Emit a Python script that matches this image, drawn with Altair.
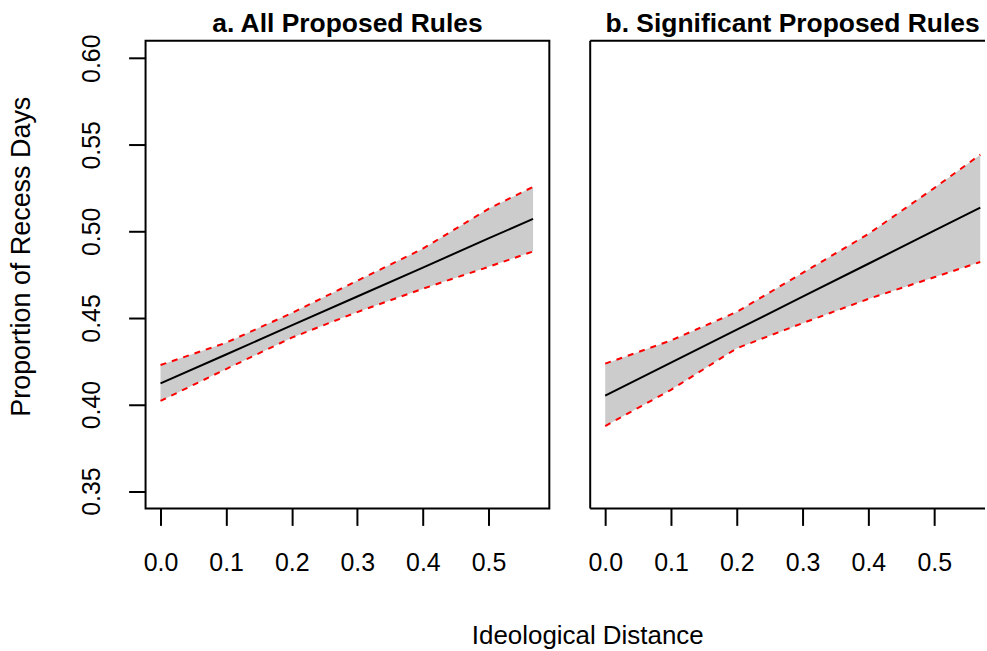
import altair as alt
import pandas as pd

# Panel a: All Proposed Rules
x_a = [0.0, 0.1, 0.2, 0.3, 0.4, 0.5, 0.568]
fit_a = [0.4122, 0.4289, 0.4457, 0.4624, 0.4791, 0.4959, 0.5072]
upper_a = [0.4228, 0.4357, 0.4528, 0.4715, 0.4900, 0.5130, 0.5257]
lower_a = [0.4021, 0.4205, 0.4386, 0.4534, 0.4669, 0.4795, 0.4884]

# Panel b: Significant Proposed Rules
x_b = [0.0, 0.1, 0.2, 0.3, 0.4, 0.5, 0.570]
fit_b = [0.4051, 0.4242, 0.4432, 0.4623, 0.4813, 0.5004, 0.5137]
upper_b = [0.4236, 0.4370, 0.4535, 0.4760, 0.4985, 0.5250, 0.5443]
lower_b = [0.3876, 0.4085, 0.4325, 0.4470, 0.4610, 0.4735, 0.4823]

x_ticks = [0.0, 0.1, 0.2, 0.3, 0.4, 0.5]
y_ticks = [0.35, 0.40, 0.45, 0.50, 0.55, 0.60]

titles = ["a. All Proposed Rules", "b. Significant Proposed Rules"]
x_title = "Ideological Distance"
y_title = "Proportion of Recess Days"

FONT = "Liberation Sans"
H = 469
Y_DOMAIN = [0.34, 0.61]


def panel(xs, fit, up, lo, title, left, width, xdomain, title_x):
    df = pd.DataFrame({"x": xs, "fit": fit, "upper": up, "lower": lo})
    xaxis = alt.Axis(
        values=x_ticks, format=".1f", tickSize=17, tickWidth=2, tickColor="black",
        labelFontSize=25, labelFont=FONT, labelColor="black", labelPadding=25,
        domain=False, grid=False,
        title=x_title if left else None,
        titleFont=FONT, titleFontSize=26, titleFontWeight="normal", titleColor="black",
        titleX=443, titleY=135, titleAlign="center", titleBaseline="alphabetic",
        titleAngle=0,
    )
    xenc = alt.X("x:Q", scale=alt.Scale(domain=xdomain, nice=False, zero=False), axis=xaxis)
    if left:
        yaxis = alt.Axis(
            values=y_ticks, format=".2f", tickSize=17, tickWidth=2, tickColor="black",
            labelFontSize=25, labelFont=FONT, labelColor="black", labelPadding=29,
            labelAngle=270, labelAlign="center", labelBaseline="alphabetic",
            domain=False, grid=False, title=y_title,
            titleFont=FONT, titleFontSize=27, titleFontWeight="normal", titleColor="black",
            titleX=-124, titleY=216, titleAngle=270, titleAlign="center",
            titleBaseline="middle",
        )
    else:
        yaxis = None
    yscale = alt.Scale(domain=Y_DOMAIN, nice=False, zero=False)

    base = alt.Chart(df)
    band = base.mark_area(color="#cccccc", opacity=1).encode(
        x=xenc,
        y=alt.Y("lower:Q", scale=yscale, axis=yaxis),
        y2="upper:Q",
    )
    up_line = base.mark_line(color="#ff0000", strokeDash=[6, 6], strokeWidth=2).encode(
        x=xenc, y=alt.Y("upper:Q", scale=yscale, axis=yaxis)
    )
    lo_line = base.mark_line(color="#ff0000", strokeDash=[6, 6], strokeWidth=2).encode(
        x=xenc, y=alt.Y("lower:Q", scale=yscale, axis=yaxis)
    )
    fit_line = base.mark_line(color="black", strokeWidth=2).encode(
        x=xenc, y=alt.Y("fit:Q", scale=yscale, axis=yaxis)
    )
    one = alt.Chart(pd.DataFrame({"k": [0]}))
    title_mark = one.mark_text(
        font=FONT, fontSize=26.5, fontWeight="bold", color="black",
        align="center", baseline="alphabetic",
    ).encode(x=alt.value(title_x), y=alt.value(-9), text=alt.value(title))
    layers = [band, up_line, lo_line, fit_line, title_mark]
    if left:
        view = alt.ViewBackground(stroke="black", strokeWidth=2)
    else:
        view = alt.ViewBackground(stroke="transparent")
        layers += [
            one.mark_rule(color="black", strokeWidth=2).encode(
                x=alt.value(0), x2=alt.value(width), y=alt.value(0)),
            one.mark_rule(color="black", strokeWidth=2).encode(
                x=alt.value(0), x2=alt.value(width), y=alt.value(H)),
            one.mark_rule(color="black", strokeWidth=2).encode(
                x=alt.value(0), y=alt.value(0), y2=alt.value(H)),
        ]
    return alt.layer(*layers).properties(width=width, height=H, view=view)


left = panel(x_a, fit_a, upper_a, lower_a, titles[0], True, 405, [-0.0228, 0.5928], 202.5)
right = panel(x_b, fit_b, upper_b, lower_b, titles[1], False, 396, [-0.0228, 0.5772], 203)

chart = alt.hconcat(left, right, spacing=41, bounds="flush").properties(
    padding={"left": 7, "top": 9, "right": 0, "bottom": 0},
    background="white",
)

chart.save("out.html", embed_options={"renderer": "svg", "actions": False})
